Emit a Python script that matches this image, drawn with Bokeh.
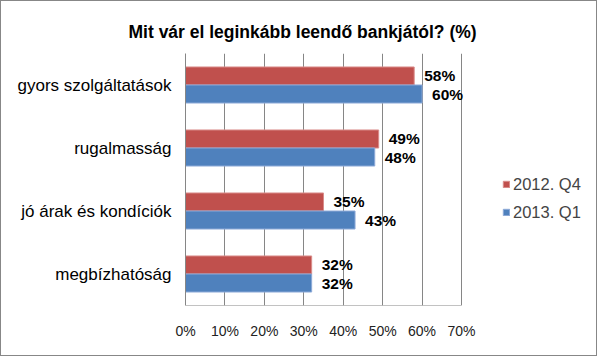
from bokeh.plotting import figure
from bokeh.models import (FactorRange, Range1d, FixedTicker, ColumnDataSource, LabelSet,
                          Legend, LegendItem)
from bokeh.core.properties import value
from bokeh.transform import dodge
from bokeh.embed import file_html
from bokeh.resources import INLINE

title_text = "Mit vár el leginkább leendő bankjától? (%)"
categories = ["gyors szolgáltatások", "rugalmasság", "jó árak és kondíciók", "megbízhatóság"]
series_names = ["2012. Q4", "2013. Q1"]
q4_2012 = [58, 49, 35, 32]
q1_2013 = [60, 48, 43, 32]
x_ticks = [0, 10, 20, 30, 40, 50, 60, 70]
x_tick_labels = ["0%", "10%", "20%", "30%", "40%", "50%", "60%", "70%"]

RED = "#C0504D"
BLUE = "#4F81BD"
GRID = "#868686"
FONT = "Liberation Sans"

W, H = 597, 356
FL, FR, FT, FB = 184, 460, 52, 304   # plot-area edges in canvas pixels (70% at FR)
FR_EXT = W - 2                        # frame extended to the right to hold the legend
x_max = x_ticks[-1]
x_end = x_max * (FR_EXT - FL) / (FR - FL)

p = figure(width=W, height=H, output_backend="svg", toolbar_location=None,
           y_range=FactorRange(factors=list(reversed(categories))),
           x_range=Range1d(0, x_end),
           min_border_left=FL, min_border_right=W - FR_EXT,
           min_border_top=FT, min_border_bottom=H - FB)
p.styles = {"border": "1px solid #878787"}
p.outline_line_color = None
p.background_fill_color = "white"

p.title.text = title_text
p.title.align = "left"
p.title.offset = -57
p.title.text_font = FONT
p.title.text_font_size = "17.5px"
p.title.text_font_style = "bold"
p.title.text_color = "black"
p.title.standoff = 24

src_a = ColumnDataSource(dict(cat=categories, val=q4_2012, lab=[f"{v}%" for v in q4_2012]))
src_b = ColumnDataSource(dict(cat=categories, val=q1_2013, lab=[f"{v}%" for v in q1_2013]))

# baseline of the value axis, from 0% to the last tick
p.segment(x0=[0], x1=[x_max], y0=[0], y1=[0], line_color=GRID, line_width=1)

ra = p.hbar(y=dodge("cat", 0.143, range=p.y_range), right="val", left=0, height=0.286,
            source=src_a, fill_color=RED, line_color="#D98C8A", line_width=1)
rb = p.hbar(y=dodge("cat", -0.143, range=p.y_range), right="val", left=0, height=0.286,
            source=src_b, fill_color=BLUE, line_color="#8EAAD8", line_width=1)

for src, off in ((src_a, 0.143), (src_b, -0.143)):
    ls = LabelSet(x="val", y=dodge("cat", off, range=p.y_range), text="lab", source=src,
                  x_offset=10, text_baseline="middle", text_align="left",
                  text_font=value(FONT), text_font_size="15.5px", text_font_style="bold",
                  text_color="black")
    p.add_layout(ls)

p.xaxis.ticker = FixedTicker(ticks=x_ticks)
p.xaxis.major_label_overrides = {t: l for t, l in zip(x_ticks, x_tick_labels)}
p.xaxis.major_label_text_font = FONT
p.xaxis.major_label_text_font_size = "14px"
p.xaxis.major_label_text_color = "#222222"
p.xaxis.major_label_standoff = 17
p.xaxis.major_tick_out = 0
p.xaxis.major_tick_in = 0
p.xaxis.major_tick_line_color = None
p.xaxis.minor_tick_line_color = None
p.xaxis.axis_line_color = None

p.yaxis.major_label_text_font = FONT
p.yaxis.major_label_text_font_size = "17px"
p.yaxis.major_label_text_color = "black"
p.yaxis.major_label_standoff = 14
p.yaxis.major_tick_out = 0
p.yaxis.major_tick_in = 0
p.yaxis.major_tick_line_color = None
p.yaxis.axis_line_color = GRID

p.xgrid.grid_line_color = GRID
p.ygrid.grid_line_color = None

legend = Legend(items=[LegendItem(label=series_names[0], renderers=[ra]),
                       LegendItem(label=series_names[1], renderers=[rb])],
                location=(317, 83), orientation="vertical",
                glyph_width=8, glyph_height=8, label_height=20, spacing=8,
                label_standoff=3, padding=0, margin=0,
                label_text_font=FONT, label_text_font_size="16.5px",
                border_line_color=None, background_fill_alpha=0)
p.add_layout(legend)

open("out.html", "w").write(file_html(p, INLINE))
